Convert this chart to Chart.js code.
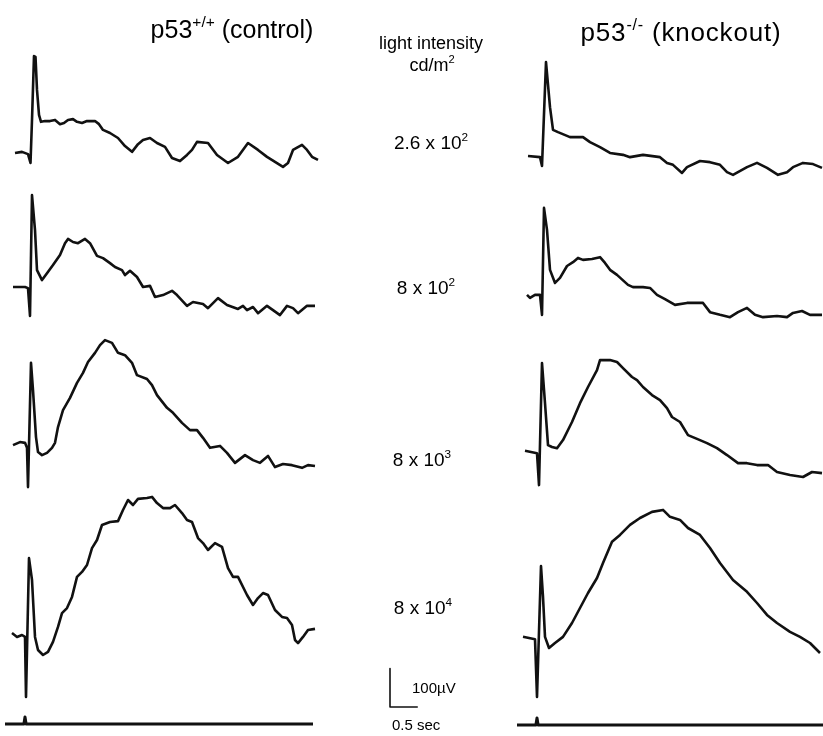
<!DOCTYPE html>
<html>
<head>
<meta charset="utf-8">
<script src="https://cdn.jsdelivr.net/npm/chart.js@4.4.1/dist/chart.umd.min.js"></script>
<style>
  html, body { margin: 0; padding: 0; background: #fff; }
  #wrap { position: relative; width: 823px; height: 736px; overflow: hidden;
          font-family: "Liberation Sans", Arial, sans-serif; color: #000; }
  #erg { position: absolute; left: 0; top: 0; }
  .lbl { position: absolute; white-space: nowrap; line-height: 1; }
  .lbl sup { font-size: 0.62em; line-height: 0; vertical-align: 0.7em; }
  .mid { transform: translateX(-50%); text-align: center; }
</style>
</head>
<body>
<div id="wrap">
  <canvas id="erg" width="823" height="736"></canvas>
</div>
<script>
// ERG sweeps: [time from sweep start (ms), amplitude (µV)]
const control260 = [[90,0],[216,3],[324,-3],[369,-26],[396,86],[432,252],[459,250],[486,164],[522,99],[558,81],[630,83],[720,83],[810,86],[900,75],[972,78],[1044,86],[1134,88],[1206,81],[1296,78],[1386,83],[1530,83],[1602,75],[1674,60],[1800,52],[1944,39],[2070,18],[2196,3],[2304,23],[2394,34],[2520,39],[2646,26],[2790,16],[2916,-13],[3060,-21],[3186,-5],[3276,8],[3366,29],[3564,26],[3726,-5],[3924,-26],[4104,-10],[4284,26],[4464,8],[4626,-10],[4770,-23],[4914,-36],[5004,-26],[5094,8],[5256,21],[5346,8],[5436,-10],[5544,-18]];
const control800 = [[54,0],[270,0],[324,-3],[360,-75],[396,239],[450,148],[486,44],[576,18],[666,36],[774,57],[900,83],[990,114],[1044,125],[1134,117],[1224,114],[1350,125],[1440,114],[1566,81],[1674,75],[1800,62],[1890,52],[2016,44],[2070,31],[2160,42],[2286,26],[2394,0],[2520,3],[2610,-26],[2754,-21],[2916,-10],[3006,-21],[3186,-49],[3294,-39],[3474,-44],[3564,-55],[3744,-29],[3906,-47],[4104,-57],[4194,-49],[4266,-60],[4374,-52],[4464,-68],[4626,-49],[4734,-60],[4860,-73],[4986,-49],[5094,-55],[5184,-68],[5346,-49],[5490,-49]];
const control8k = [[54,-3],[180,5],[270,3],[306,-10],[324,-112],[378,211],[414,140],[468,18],[504,-21],[576,-29],[666,-23],[756,-10],[810,3],[864,44],[954,88],[1080,120],[1206,159],[1314,185],[1404,213],[1530,237],[1620,257],[1710,270],[1836,263],[1944,237],[2070,231],[2196,211],[2286,179],[2466,169],[2556,153],[2646,127],[2826,94],[2934,81],[3096,55],[3240,36],[3366,36],[3474,16],[3600,-10],[3780,-5],[3906,-23],[4050,-49],[4230,-29],[4374,-42],[4500,-49],[4644,-31],[4770,-60],[4914,-52],[5076,-55],[5256,-62],[5364,-55],[5490,-57]];
const control80k = [[36,5],[126,-5],[216,0],[270,-5],[288,-161],[342,200],[396,143],[450,-5],[504,-39],[594,-52],[684,-44],[774,-18],[864,21],[936,57],[1026,70],[1116,99],[1206,151],[1296,164],[1386,182],[1476,226],[1566,247],[1656,286],[1800,294],[1944,296],[2034,325],[2124,351],[2214,338],[2304,354],[2466,356],[2556,359],[2646,343],[2754,330],[2880,330],[2970,338],[3096,317],[3186,299],[3276,294],[3384,252],[3474,239],[3564,221],[3690,239],[3816,229],[3924,174],[4014,151],[4104,151],[4266,104],[4374,78],[4464,96],[4554,109],[4644,104],[4770,65],[4896,47],[4986,44],[5076,26],[5130,-13],[5184,-21],[5274,-5],[5364,13],[5490,16]];

const knockout260 = [[108,0],[324,-3],[360,-26],[432,244],[504,127],[558,68],[648,62],[864,49],[1098,49],[1224,36],[1404,23],[1584,8],[1818,3],[1944,-3],[2178,3],[2484,-3],[2610,-18],[2718,-23],[2880,-44],[2970,-29],[3204,-13],[3384,-16],[3564,-23],[3690,-42],[3798,-49],[4050,-29],[4230,-18],[4410,-31],[4608,-49],[4770,-42],[4878,-29],[5058,-18],[5238,-21],[5400,-31]];
const knockout800 = [[90,3],[144,-5],[234,3],[324,3],[360,-49],[396,229],[450,172],[504,68],[594,34],[684,47],[810,78],[918,88],[1008,99],[1098,94],[1260,96],[1404,101],[1494,86],[1584,68],[1710,55],[1908,29],[1998,23],[2178,23],[2304,21],[2430,3],[2574,-8],[2754,-23],[2970,-18],[3258,-18],[3384,-42],[3564,-49],[3744,-55],[3888,-42],[4050,-31],[4194,-49],[4338,-55],[4590,-52],[4770,-55],[4878,-44],[5040,-39],[5184,-49],[5400,-49]];
const knockout8k = [[54,3],[270,-3],[306,-86],[360,231],[414,127],[468,18],[540,13],[630,10],[738,31],[900,78],[1044,127],[1188,169],[1350,213],[1404,239],[1584,239],[1710,234],[1818,218],[1980,195],[2070,187],[2178,169],[2340,148],[2484,135],[2610,114],[2700,91],[2844,78],[2988,44],[3150,34],[3330,23],[3510,10],[3690,-8],[3888,-29],[4050,-29],[4230,-34],[4428,-34],[4590,-52],[4824,-60],[5058,-65],[5220,-52],[5400,-55]];
const knockout80k = [[18,3],[234,-3],[270,-153],[342,187],[378,107],[414,3],[486,-26],[594,-13],[738,3],[900,39],[1044,78],[1188,117],[1350,156],[1458,195],[1620,250],[1764,268],[1944,294],[2124,312],[2340,328],[2538,333],[2664,315],[2844,307],[2988,286],[3204,268],[3384,234],[3564,195],[3798,151],[4050,120],[4230,91],[4410,60],[4590,39],[4824,16],[5004,3],[5184,-13],[5364,-39]];

// photocell trace marking the flash
const stimulus = [[0,0],[340,0],[360,18],[380,0],[5544,0]];

// flash intensities (cd/m²), one per row
const intensityMantissa = ['2.6', '8', '8', '8'];
const intensityExponent = [2, 2, 3, 4];

const scaleBarMs = 500;
const scaleBarUv = 100;

// layout (pixels)
const W = 823, H = 736;
const MS_PER_PX = 18, UV_PER_PX = 2.6;
const colOrigin = [10, 522];
const rowBase = [[153, 287, 444, 635], [156, 296, 452, 638]];
const stimOrigin = [5, 517];
const stimBase = [724, 725];
const labelTop = [133, 278, 450, 598];
const labelCenter = [431, 426, 422, 423];

const traces = [
  [control260, control800, control8k, control80k],
  [knockout260, knockout800, knockout8k, knockout80k]
];

function place(series, x0, base) {
  return series.map(([t, uv]) => ({
    x: x0 * MS_PER_PX + t,
    y: (H - base) * UV_PER_PX + uv
  }));
}

const datasets = [];
traces.forEach((col, c) => {
  col.forEach((series, r) => {
    datasets.push({ data: place(series, colOrigin[c], rowBase[c][r]), borderWidth: 2.6 });
  });
  datasets.push({ data: place(stimulus, stimOrigin[c], stimBase[c]), borderWidth: 3 });
});

// calibration: 100 µV vertical, 0.5 s horizontal
datasets.push({
  data: place([[0, scaleBarUv], [0, 0], [scaleBarMs, 0]], 390, 707),
  borderWidth: 1.6
});

new Chart(document.getElementById('erg'), {
  type: 'scatter',
  data: {
    datasets: datasets.map(d => Object.assign({
      showLine: true,
      borderColor: '#111',
      pointRadius: 0,
      borderJoinStyle: 'round',
      borderCapStyle: 'butt'
    }, d))
  },
  options: {
    responsive: false,
    animation: false,
    layout: { padding: 0 },
    plugins: { legend: { display: false }, tooltip: { enabled: false } },
    elements: { line: { tension: 0 } },
    scales: {
      x: { type: 'linear', display: false, min: 0, max: W * MS_PER_PX },
      y: { type: 'linear', display: false, min: 0, max: H * UV_PER_PX }
    }
  }
});

// text
const wrap = document.getElementById('wrap');
function label(html, css, cls) {
  const el = document.createElement('div');
  el.className = 'lbl' + (cls ? ' ' + cls : '');
  el.innerHTML = html;
  Object.assign(el.style, css);
  wrap.appendChild(el);
}

label('p53<sup>+/+</sup> (control)', { left: '232px', top: '17px', fontSize: '25px' }, 'mid');
label('p53<sup>-/-</sup> (knockout)', { left: '681px', top: '19px', fontSize: '26px', letterSpacing: '0.8px' }, 'mid');
label('light intensity', { left: '431px', top: '34px', fontSize: '18px' }, 'mid');
label('cd/m<sup>2</sup>', { left: '432px', top: '56px', fontSize: '18px' }, 'mid');

intensityMantissa.forEach((m, i) => {
  label(m + ' x 10<sup>' + intensityExponent[i] + '</sup>',
    { left: labelCenter[i] + 'px', top: labelTop[i] + 'px', fontSize: '19px' }, 'mid');
});

label('100\u00b5V', { left: '412px', top: '680px', fontSize: '15px' });
label('0.5 sec', { left: '392px', top: '717px', fontSize: '15px' });
</script>
</body>
</html>
